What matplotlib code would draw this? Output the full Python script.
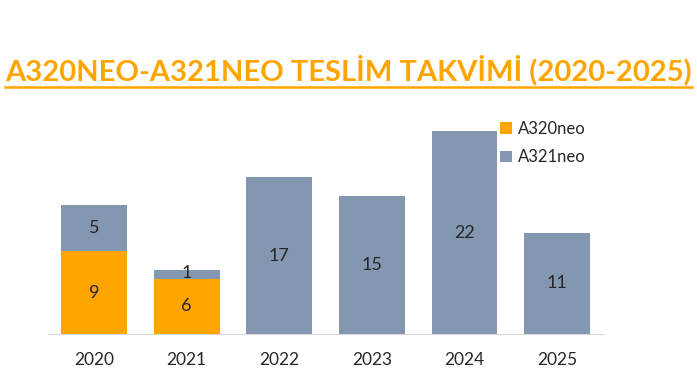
import matplotlib
matplotlib.use("Agg")
import matplotlib.pyplot as plt
from matplotlib.lines import Line2D
import numpy as np

plt.rcParams['font.family'] = ['Lato', 'DejaVu Sans']

years = ['2020', '2021', '2022', '2023', '2024', '2025']
a320neo = [9, 6, 0, 0, 0, 0]
a321neo = [5, 1, 17, 15, 22, 11]

ORANGE = '#FFA500'
GRAY = '#8497B0'

fig = plt.figure(figsize=(6.97, 3.92), dpi=100)
ax = fig.add_axes([0.0683, 0.148, 0.7977, 0.564])

x = np.arange(len(years))
b1 = ax.bar(x, a320neo, width=0.71, color=ORANGE, label='A320neo')
b2 = ax.bar(x, a321neo, width=0.71, bottom=a320neo, color=GRAY, label='A321neo')

# value labels inside the stacks
for i in range(len(years)):
    if a320neo[i] > 0:
        ax.text(x[i], a320neo[i] / 2, str(a320neo[i]), ha='center', va='center',
                fontsize=13, color='#262626')
    y = a320neo[i] + a321neo[i] / 2
    if a321neo[i] == 1:
        y = a320neo[i] + 0.6
    ax.text(x[i], y, str(a321neo[i]), ha='center', va='center',
            fontsize=13, color='#262626')

ax.set_xlim(-0.5, len(years) - 0.5)
ax.set_ylim(0, 24)
ax.set_xticks(x)
ax.set_xticklabels(years, fontsize=12.5, color='#262626')
ax.tick_params(axis='x', length=0, pad=13)
ax.set_yticks([])
for s in ['top', 'right', 'left']:
    ax.spines[s].set_visible(False)
ax.spines['bottom'].set_color('#D9D9D9')

leg = fig.legend(handles=[b1, b2], loc='upper left', bbox_to_anchor=(0.696, 0.73),
                 frameon=False, fontsize=12, handlelength=0.7, handleheight=0.7,
                 handletextpad=0.4, labelspacing=0.75)
for t in leg.get_texts():
    t.set_color('#262626')

title = fig.text(0.5, 0.822, 'A320NEO-A321NEO TESLİM TAKVİMİ (2020-2025)',
                 ha='center', va='center', fontsize=21, fontweight='bold', color=ORANGE)
fig.canvas.draw()
bb = title.get_window_extent().transformed(fig.transFigure.inverted())
fig.add_artist(Line2D([bb.x0, bb.x1], [bb.y0 - 0.004, bb.y0 - 0.004],
                      transform=fig.transFigure, color=ORANGE, lw=1.8))

fig.savefig('out.png', dpi=100)
